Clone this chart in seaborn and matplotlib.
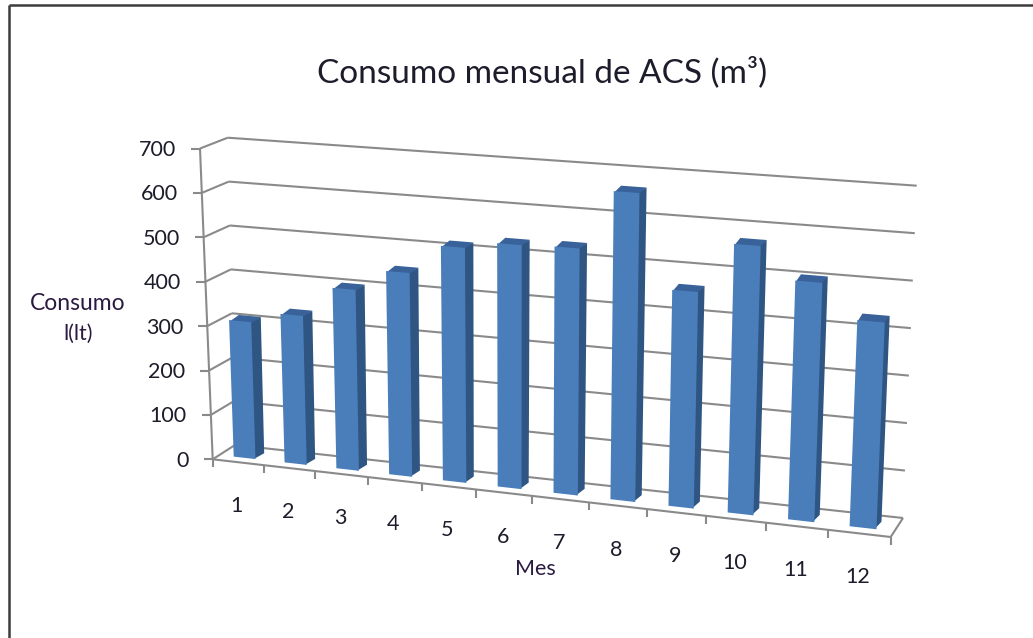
import numpy as np
import pandas as pd
import matplotlib
matplotlib.use("Agg")
import matplotlib.pyplot as plt
from matplotlib.transforms import Transform
import seaborn as sns

# Monthly hot water consumption
months = [1, 2, 3, 4, 5, 6, 7, 8, 9, 10, 11, 12]
consumption = [308, 333, 402, 450, 516, 532, 535, 665, 463, 572, 505, 433]
y_ticks = [0, 100, 200, 300, 400, 500, 600, 700]
title = "Consumo mensual de ACS (m³)"
y_label = ["Consumo", "l(lt)"]
x_label = "Mes"

FRONT = "#4A7EBB"
SIDE = "#2F5583"
TOP = "#386299"
GRID = "#8A8A8A"
INK = "#1C1C2A"
LABEL_INK = "#2A1A40"

# Box corners in figure pixels, (month position, value, depth)
CORNERS = {
    "f0": np.array([212.7, 459.3]), "f1": np.array([890.7, 537.0]),
    "ft0": np.array([200.0, 148.5]), "ft1": np.array([905.0, 201.0]),
    "b0": np.array([235.0, 445.0]), "b1": np.array([903.0, 518.0]),
    "bt0": np.array([227.7, 137.7]), "bt1": np.array([916.7, 185.7]),
}
X_MAX, Y_MAX = 12.0, 700.0
PERSPECTIVE = 0.122
BAR_DEPTH = (0.3, 0.7)
BAR_WIDTH = 0.43


def project(x, y, depth):
    """Map month position and value on a depth plane to pixel coordinates."""
    x, y = np.asarray(x, float), np.asarray(y, float)
    s = (x - 0.5) / X_MAX
    s = s / (1 + PERSPECTIVE * (1 - s))
    v = y / Y_MAX
    c = CORNERS
    front = (np.outer(1 - s, c["f0"]) + np.outer(s, c["f1"])) * (1 - v)[:, None] \
        + (np.outer(1 - s, c["ft0"]) + np.outer(s, c["ft1"])) * v[:, None]
    back = (np.outer(1 - s, c["b0"]) + np.outer(s, c["b1"])) * (1 - v)[:, None] \
        + (np.outer(1 - s, c["bt0"]) + np.outer(s, c["bt1"])) * v[:, None]
    return front * (1 - depth) + back * depth


class DepthPlane(Transform):
    """Non-affine transform placing (month, value) data on one depth plane."""
    input_dims = output_dims = 2

    def __init__(self, plane):
        super().__init__()
        self.plane = plane

    def transform_non_affine(self, values):
        values = np.asarray(values, float)
        return project(values[:, 0], values[:, 1], self.plane)


sns.set_theme(style="white")
plt.rcParams["font.family"] = ["Lato", "DejaVu Sans"]

fig = plt.figure(figsize=(10.33, 6.38), dpi=100, facecolor="white")
ax = fig.add_axes([0, 0, 1, 1])

table = pd.DataFrame({"mes": months, "consumo": consumption})
sns.barplot(data=table, x="mes", y="consumo", native_scale=True, width=BAR_WIDTH,
            color=FRONT, saturation=1, linewidth=0, errorbar=None, ax=ax, zorder=4)

front_plane = DepthPlane(BAR_DEPTH[0]) + ax.transData
for bar in ax.patches:
    bar.set_transform(front_plane)
    bar.set_clip_on(False)
    x0, x1 = bar.get_x(), bar.get_x() + bar.get_width()
    h = bar.get_height()
    d0, d1 = BAR_DEPTH
    # Side and top start slightly inside the front face so no seam shows
    xs = x1 - 0.03
    side = np.vstack([project([xs, xs], [0, h - 4], d0), project([x1, x1], [h, 0], d1)])
    top = np.vstack([project([x0, x1], [h - 4, h - 4], d0), project([x1, x0], [h, h], d1)])
    ax.fill(top[:, 0], top[:, 1], color=TOP, lw=0, zorder=3)
    ax.fill(side[:, 0], side[:, 1], color=SIDE, lw=0, zorder=3)

# Back wall gridlines, left wall edges and value ticks
x_lo, x_hi = 0.5, 12.5
line = dict(color=GRID, lw=1.5, solid_capstyle="butt", zorder=2)
back_plane = DepthPlane(1.0) + ax.transData
for tick in y_ticks:
    ax.plot([x_lo, x_hi], [tick, tick], transform=back_plane, **line)
    wall = project([x_lo, x_lo], [tick, tick], 0.0), project([x_lo, x_lo], [tick, tick], 1.0)
    ax.plot([wall[0][0, 0], wall[1][0, 0]], [wall[0][0, 1], wall[1][0, 1]], **line)
    p = project([x_lo], [tick], 0.0)[0]
    ax.plot([p[0] - 9, p[0]], [p[1], p[1]], **line)
    ax.text(p[0] - 24, p[1] + 1.5, str(tick), ha="right", va="center", fontsize=15.5, color=INK)

# Front axis lines, floor edges and month ticks
front_axis = DepthPlane(0.0) + ax.transData
ax.plot([x_lo, x_lo], [0, Y_MAX], transform=front_axis, **line)
ax.plot([x_lo, x_hi], [0, 0], transform=front_axis, **line)
right = np.vstack([project([x_hi], [0], 0.0), project([x_hi], [0], 1.0)])
ax.plot(right[:, 0], right[:, 1], **line)
for edge in [x_lo] + [m + 0.5 for m in months]:
    p = project([edge], [0], 0.0)[0]
    ax.plot([p[0], p[0]], [p[1], p[1] + 8], **line)
for m in months:
    p = project([m], [0], 0.0)[0]
    ax.text(p[0] - 1.5, p[1] + 44, str(m), ha="center", va="center", fontsize=15.5, color=INK)

# Titles
ax.text(542, 72, title, ha="center", va="center", fontsize=24, color=INK)
ax.text(78, 303, y_label[0], ha="center", va="center", fontsize=16.5, color=LABEL_INK)
ax.text(78, 334, y_label[1], ha="center", va="center", fontsize=15.5, color=LABEL_INK)
ax.text(535, 569, x_label, ha="center", va="center", fontsize=15.5, color=LABEL_INK)

# Chart frame along the top and left edges
frame = dict(color="#3C3C3C", lw=1.8, solid_capstyle="butt", zorder=5)
ax.plot([9, 9], [638, 5], **frame)
ax.plot([9, 1033], [5, 5], **frame)

ax.set_xlim(0, 1033)
ax.set_ylim(638, 0)
ax.axis("off")
fig.savefig("out.png", dpi=100, facecolor="white")
